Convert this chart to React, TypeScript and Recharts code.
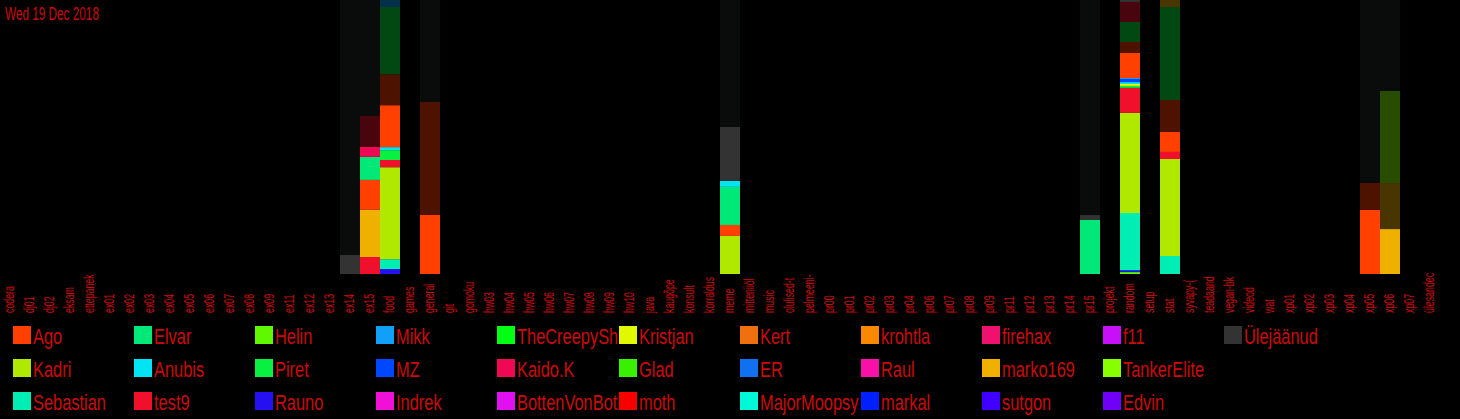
import React from 'react';
import { BarChart, Bar, XAxis, YAxis, Cell } from 'recharts';

const channels = [
  'codera', 'dj01', 'dj02', 'eksam', 'ettepanek', 'ex01', 'ex02', 'ex03', 'ex04', 'ex05',
  'ex06', 'ex07', 'ex08', 'ex09', 'ex11', 'ex12', 'ex13', 'ex14', 'ex15', 'food',
  'games', 'general', 'git', 'gomoku', 'hw03', 'hw04', 'hw05', 'hw06', 'hw07', 'hw08',
  'hw09', 'hw10', 'java', 'kaugõpe', 'konsult', 'korraldus', 'meme', 'mitteniiöl', 'music', 'olulised-t',
  'pelmeeni-', 'pr00', 'pr01', 'pr02', 'pr03', 'pr04', 'pr06', 'pr07', 'pr08', 'pr09',
  'pr11', 'pr12', 'pr13', 'pr14', 'pr15', 'projekt', 'random', 'setup', 'stat', 'syvapy-(',
  'teadaand', 'vegan-bk', 'videod', 'wat', 'xp01', 'xp02', 'xp03', 'xp04', 'xp05', 'xp06',
  'xp07', 'ülesandec',
];

// share of each user per channel (%), bottom to top; "~" = faded shade
const ex14: [string, number][] = [['Ülejäänud', 7], ['Ülejäänud~', 93]];
const ex15: [string, number][] = [
  ['test9', 6.2], ['marko169', 17.2], ['Ago', 10.9], ['Elvar', 8.4], ['Kaido.K', 3.6],
  ['test9~', 11.3], ['Ülejäänud~', 42.3],
];
const food: [string, number][] = [
  ['Rauno', 1.8], ['Sebastian', 3.6], ['Kadri', 33.6], ['test9', 2.6], ['Piret', 3.6],
  ['Anubis', 1.1], ['Ago', 15.3], ['Ago~', 11.3], ['Piret~', 24.5], ['Mikk~', 2.6],
];
const general: [string, number][] = [['Ago', 21.5], ['Ago~', 41.2], ['Ülejäänud~', 37.2]];
const meme: [string, number][] = [
  ['Kadri', 13.9], ['Ago', 4.0], ['Elvar', 13.9], ['Anubis', 2.2], ['Ülejäänud', 19.7],
  ['Ülejäänud~', 46.3],
];
const pr15: [string, number][] = [['Elvar', 19.7], ['Ülejäänud', 1.8], ['Ülejäänud~', 78.5]];
const random: [string, number][] = [
  ['Helin', 0.7], ['Rauno', 0.7], ['Sebastian', 20.8], ['Kadri', 36.5], ['test9', 9.1],
  ['Piret', 0.7], ['Kristjan', 0.7], ['Anubis', 0.7], ['MZ', 1.1], ['Mikk', 0.4],
  ['Ago', 9.1], ['Ago~', 4.0], ['Piret~', 7.3], ['test9~', 7.3], ['Ülejäänud', 0.7],
];
const stat: [string, number][] = [
  ['Sebastian', 6.6], ['Kadri', 35.4], ['test9', 2.6], ['Ago', 7.3], ['Ago~', 11.7],
  ['Piret~', 33.9], ['marko169~', 2.6],
];
const xp05: [string, number][] = [['Ago', 23.4], ['Ago~', 9.9], ['Ülejäänud~', 66.8]];
const xp06: [string, number][] = [
  ['marko169', 16.4], ['marko169~', 16.8], ['TankerElite~', 33.6], ['Ülejäänud~', 33.2],
];

const stacks: Record<string, [string, number][]> = {
  ex14, ex15, food, general, meme, pr15, random, stat, xp05, xp06,
};

// legend, column by column
const legendOrder = [
  'Ago', 'Kadri', 'Sebastian', 'Elvar', 'Anubis', 'test9', 'Helin', 'Piret', 'Rauno',
  'Mikk', 'MZ', 'Indrek', 'TheCreepySh', 'Kaido.K', 'BottenVonBot', 'Kristjan', 'Glad', 'moth',
  'Kert', 'ER', 'MajorMoopsy', 'krohtla', 'Raul', 'markal', 'firehax', 'marko169', 'sutgon',
  'f11', 'TankerElite', 'Edvin', 'Ülejäänud',
];

const userColors: Record<string, string> = {
  Ago: '#ff4000', Kadri: '#b0e800', Sebastian: '#00eeb4', Elvar: '#00e878', Anubis: '#00e4f4',
  test9: '#f0102c', Helin: '#60f800', Piret: '#08f040', Rauno: '#2410f0', Mikk: '#10a0f8',
  MZ: '#0048ff', Indrek: '#f010d8', TheCreepySh: '#00ff10', 'Kaido.K': '#f00854',
  BottenVonBot: '#e010f0', Kristjan: '#e0f800', Glad: '#38f000', moth: '#f80000',
  Kert: '#f07010', ER: '#1070f0', MajorMoopsy: '#00f8d8', krohtla: '#f88800', Raul: '#f810a8',
  markal: '#0020ff', firehax: '#f01070', marko169: '#f0b000', sutgon: '#4000ff', f11: '#c810f8',
  TankerElite: '#88ff00', Edvin: '#7000f8', 'Ülejäänud': '#333333',
};

const TEXT = '#cc0a0a';
const FONT = '"Liberation Sans", Arial, sans-serif';

const fade = (hex: string, k = 0.3) => {
  const n = parseInt(hex.slice(1), 16);
  const c = [(n >> 16) & 255, (n >> 8) & 255, n & 255].map((v) => Math.round(v * k));
  return '#' + c.map((v) => v.toString(16).padStart(2, '0')).join('');
};

const shade = (key?: string) => {
  if (!key) return 'transparent';
  if (key === 'Ülejäänud~') return '#090c0a';
  if (key.endsWith('~')) return fade(userColors[key.slice(0, -1)]);
  return userColors[key];
};

const depth = Math.max(...Object.values(stacks).map((s) => s.length));

const rows = channels.map((name) => {
  const row: any = { name };
  (stacks[name] || []).forEach(([user, v], i) => {
    row[`s${i}`] = v;
    row[`u${i}`] = user;
  });
  return row;
});

// narrow, tall lettering: squeeze Liberation Sans along the text, stretch it across
const ChannelTick = ({ x, payload }: any) => (
  <text
    transform={`translate(${x + 4}, 313) rotate(-90) scale(0.8, 1.35)`}
    fill={TEXT}
    fontSize={11}
    fontFamily={FONT}
    textAnchor="start"
  >
    {payload.value}
  </text>
);

const Legend31 = () => (
  <>
    {legendOrder.map((user, i) => {
      const col = Math.floor(i / 3);
      const row = i % 3;
      return (
        <div
          key={user}
          style={{ position: 'absolute', left: 13 + col * 121.1, top: 326 + row * 33, width: 121, height: 24 }}
        >
          <div style={{ position: 'absolute', left: 0, top: 0, width: 18, height: 18, background: userColors[user] }} />
          <div
            style={{
              position: 'absolute',
              left: 20,
              top: -1.5,
              fontSize: 20,
              lineHeight: '20px',
              fontFamily: FONT,
              color: TEXT,
              whiteSpace: 'nowrap',
              transform: 'scale(0.82, 1.1)',
              transformOrigin: 'top left',
            }}
          >
            {user}
          </div>
        </div>
      );
    })}
  </>
);

export default function App() {
  return (
    <div style={{ position: 'absolute', left: 0, top: 0, width: 1460, height: 419, background: '#000', overflow: 'hidden' }}>
      <BarChart
        width={1460}
        height={320}
        data={rows}
        stackOffset="expand"
        barCategoryGap={0}
        barGap={0}
        margin={{ top: 0, right: 20, bottom: 0, left: 0 }}
      >
        <XAxis dataKey="name" interval={0} axisLine={false} tickLine={false} height={46} tick={<ChannelTick />} />
        <YAxis hide />
        {Array.from({ length: depth }, (_, k) => (
          <Bar key={k} dataKey={`s${k}`} stackId="a" isAnimationActive={false}>
            {rows.map((r, i) => (
              <Cell key={i} fill={shade(r[`u${k}`])} />
            ))}
          </Bar>
        ))}
      </BarChart>
      <div
        style={{
          position: 'absolute',
          left: 5,
          top: 4,
          fontSize: 14,
          lineHeight: '14px',
          fontFamily: FONT,
          color: TEXT,
          whiteSpace: 'nowrap',
          transform: 'scale(0.84, 1.35)',
          transformOrigin: 'top left',
        }}
      >
        Wed 19 Dec 2018
      </div>
      <Legend31 />
    </div>
  );
}
